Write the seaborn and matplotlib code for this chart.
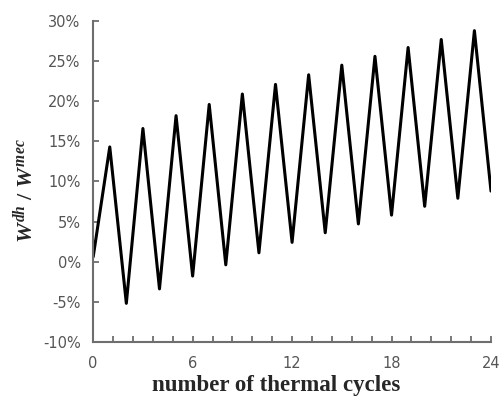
import numpy as np
import pandas as pd
import matplotlib
matplotlib.use("Agg")
import matplotlib.pyplot as plt
import seaborn as sns
from matplotlib.ticker import PercentFormatter, MultipleLocator

# ratio W_dh / W_mec (in %) at each half thermal cycle
cycles = list(range(0, 25))
ratio = [0.6, 14.3, -5.2, 16.6, -3.4, 18.2, -1.8, 19.6, -0.4, 20.9, 1.1, 22.1,
         2.4, 23.3, 3.6, 24.5, 4.7, 25.6, 5.8, 26.7, 6.9, 27.7, 7.9, 28.8, 8.8]

df = pd.DataFrame({"cycle": cycles, "ratio": ratio})

sns.set_style("ticks")
plt.rcParams["font.family"] = ["DejaVu Sans"]
plt.rcParams["axes.unicode_minus"] = False
plt.rcParams["mathtext.fontset"] = "custom"
plt.rcParams["mathtext.rm"] = "Liberation Serif:bold"
plt.rcParams["mathtext.it"] = "Liberation Serif:italic:bold"
plt.rcParams["mathtext.bf"] = "Liberation Serif:bold"

fig = plt.figure(figsize=(5.01, 3.97), dpi=100)
ax = fig.add_axes([0.186, 0.139, 0.794, 0.808])

sns.lineplot(data=df, x="cycle", y="ratio", color="black", linewidth=2.2, ax=ax)

ax.set_xlim(0, 24)
ax.set_ylim(-10, 30)
ax.xaxis.set_major_locator(MultipleLocator(6))
ax.xaxis.set_minor_locator(MultipleLocator(1.2))
ax.yaxis.set_major_locator(MultipleLocator(5))
ax.yaxis.set_major_formatter(PercentFormatter(decimals=0))

grey = "#6e6e6e"
for side in ["left", "bottom"]:
    ax.spines[side].set_color(grey)
    ax.spines[side].set_linewidth(1.5)
sns.despine(ax=ax)

ax.tick_params(axis="both", which="both", direction="in", color=grey, width=1.3,
               length=4, labelcolor="#555555", labelsize=10.5)
ax.tick_params(axis="x", which="major", pad=10)
ax.tick_params(axis="y", which="major", pad=9)

ax.set_xlabel("number of thermal cycles", fontfamily="Liberation Serif",
              fontweight="bold", fontsize=16.5)
ax.xaxis.set_label_coords(0.46, -0.105)
ax.set_ylabel(r"$W^{dh}\ /\ W^{mec}$", fontsize=16)
ax.yaxis.set_label_coords(-0.143, 0.47)

fig.savefig("out.png", dpi=100)
